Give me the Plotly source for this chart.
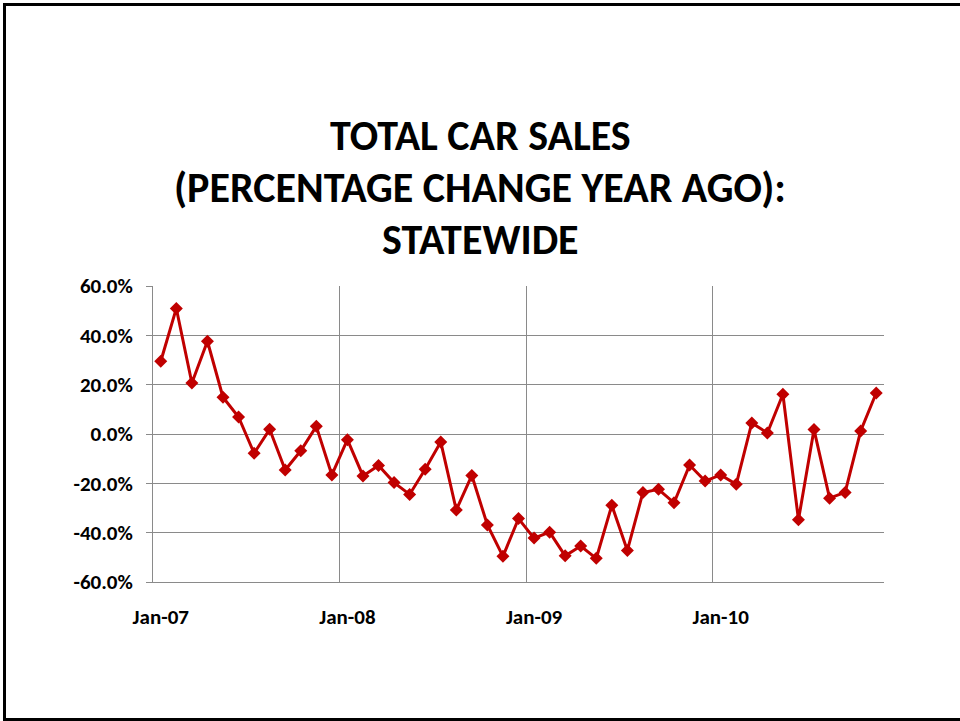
import plotly.graph_objects as go

# ---- data ----
months = [f"{m}-{y:02d}" for y in (7, 8, 9, 10) for m in
          ["Jan", "Feb", "Mar", "Apr", "May", "Jun", "Jul", "Aug", "Sep", "Oct", "Nov", "Dec"]][:47]
pct_change = [
    29.5, 50.9, 20.7, 37.6, 14.9, 6.9, -7.8, 1.9, -14.6, -6.8, 3.1, -16.6,
    -2.3, -17.0, -12.8, -19.7, -24.5, -14.3, -3.2, -30.8, -16.8, -36.9, -49.6, -34.3,
    -42.2, -39.8, -49.4, -45.4, -50.4, -28.9, -47.2, -23.7, -22.4, -27.9, -12.6, -19.1,
    -16.6, -20.4, 4.5, 0.4, 16.1, -34.8, 1.8, -26.0, -23.7, 1.2, 16.6,
]
y_ticks = [-60, -40, -20, 0, 20, 40, 60]
y_ticktext = [f"{v:.1f}%" for v in y_ticks]
title_lines = ["TOTAL CAR SALES", "(PERCENTAGE CHANGE YEAR AGO):", "STATEWIDE"]

# ---- layout geometry (page pixels) ----
W, H = 960, 721
L, R, T, B = 153, 884, 286, 582
def px_x(p):
    return (p - L) / (R - L)
def px_y(p):
    return (B - p) / (B - T)

FONT = "Carlito, Lato, 'Open Sans', sans-serif"
GRID = "#8a8a8a"
RED = "#c00000"

x_idx = list(range(len(months)))
x_tickvals = x_idx[::12]
x_ticktext = months[::12]

fig = go.Figure()
fig.add_trace(go.Scatter(
    x=x_idx, y=pct_change, mode="lines+markers",
    line=dict(color=RED, width=3),
    marker=dict(symbol="diamond", size=10, color=RED),
    showlegend=False, hoverinfo="y",
))

fig.update_layout(
    width=W, height=H,
    margin=dict(l=L, r=W - R, t=T, b=H - B, pad=0),
    paper_bgcolor="white", plot_bgcolor="white",
    font=dict(family=FONT, color="black"),
    xaxis=dict(
        range=[-0.5, len(months) - 0.5],
        tickmode="array", tickvals=x_tickvals, ticktext=x_ticktext,
        showgrid=False, zeroline=False,
        ticks="", ticklabelstandoff=16,
        tickfont=dict(family=FONT, size=21, color="black", weight="bold"),
        showline=True, linecolor=GRID, linewidth=1,
        minor=dict(tickmode="array", tickvals=[11.5, 23.5, 35.5],
                   showgrid=True, gridcolor=GRID, gridwidth=1, ticks=""),
    ),
    yaxis=dict(
        range=[-60, 60],
        tickmode="array", tickvals=y_ticks, ticktext=y_ticktext,
        showgrid=True, gridcolor=GRID, gridwidth=1,
        zeroline=False,
        ticks="outside", ticklen=6, tickcolor=GRID, tickwidth=1,
        ticklabelstandoff=9,
        tickfont=dict(family=FONT, size=21, color="black", weight="bold"),
        showline=True, linecolor=GRID, linewidth=1,
    ),
)

title_centers = [136, 188, 240]
for txt, cy in zip(title_lines, title_centers):
    fig.add_annotation(
        text=txt, xref="paper", yref="paper",
        x=px_x(480), y=px_y(cy - 1), xanchor="center", yanchor="middle",
        showarrow=False,
        font=dict(family=FONT, size=42, color="black", weight="bold"),
    )

fig.add_shape(type="rect", xref="paper", yref="paper",
              x0=px_x(4.5), x1=px_x(975), y0=px_y(719.5), y1=px_y(4.5),
              line=dict(color="black", width=3), fillcolor="rgba(0,0,0,0)")

fig.write_html("out.html",
               config={"displayModeBar": False},
               post_script="document.body.style.margin='0';document.body.style.overflow='hidden';")
